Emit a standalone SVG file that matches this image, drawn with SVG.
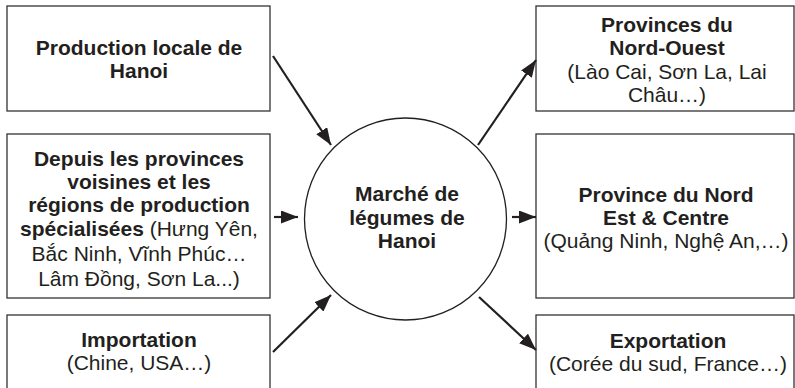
<svg xmlns="http://www.w3.org/2000/svg" width="795" height="388" viewBox="0 0 795 388">
<defs>
<style>
.box{fill:#fff;stroke:#333;stroke-width:1.3}
.t{font-family:"Liberation Sans",Arial,sans-serif;font-size:21px;fill:#231f20;text-anchor:middle}
.b{font-weight:bold}
.c{stroke:#231f20;stroke-width:2.2;fill:none;marker-end:url(#ah)}
</style>
<marker id="ah" markerUnits="userSpaceOnUse" markerWidth="18" markerHeight="13" refX="17" refY="6.5" orient="auto">
<path d="M0,0 L17,6.5 L0,13 z" fill="#231f20"/>
</marker>
</defs>
<rect width="795" height="388" fill="#fff"/>
<g id="n-local">
<rect class="box" x="7" y="6" width="263" height="105"/>
<text class="t b" x="139" y="55">Production locale de</text>
<text class="t b" x="139" y="78">Hanoi</text>
</g>
<g id="n-provinces">
<rect class="box" x="7" y="134" width="263" height="164"/>
<text class="t b" x="139" y="166">Depuis les provinces</text>
<text class="t b" x="139" y="189">voisines et les</text>
<text class="t b" x="139" y="212">régions de production</text>
<text class="t" x="139" y="236"><tspan class="b">spécialisées</tspan> (Hưng Yên,</text>
<text class="t" x="139" y="261">Bắc Ninh, Vĩnh Phúc…</text>
<text class="t" x="139" y="286">Lâm Đồng, Sơn La...)</text>
</g>
<g id="n-import">
<rect class="box" x="7" y="315" width="263" height="80"/>
<text class="t b" x="139" y="347">Importation</text>
<text class="t" x="139" y="370">(Chine, USA…)</text>
</g>
<g id="n-marche">
<circle cx="405.5" cy="219" r="101" fill="#fff" stroke="#231f20" stroke-width="1.3"/>
<text class="t b" x="407" y="201">Marché de</text>
<text class="t b" x="407" y="224.5">légumes de</text>
<text class="t b" x="407" y="248">Hanoi</text>
</g>
<g id="n-nordouest">
<rect class="box" x="536" y="6" width="258" height="105"/>
<text class="t b" x="667" y="32">Provinces du</text>
<text class="t b" x="667" y="55">Nord-Ouest</text>
<text class="t" x="667" y="79">(Lào Cai, Sơn La, Lai</text>
<text class="t" x="667" y="102">Châu…)</text>
</g>
<g id="n-nordest">
<rect class="box" x="536" y="134" width="258" height="164"/>
<text class="t b" x="666" y="202">Province du Nord</text>
<text class="t b" x="666" y="225">Est &amp; Centre</text>
<text class="t" x="666" y="248">(Quảng Ninh, Nghệ An,…)</text>
</g>
<g id="n-export">
<rect class="box" x="536" y="315" width="258" height="80"/>
<text class="t b" x="668" y="348">Exportation</text>
<text class="t" x="668" y="371">(Corée du sud, France…)</text>
</g>
<g id="connectors">
<line class="c" x1="273" y1="56" x2="331" y2="145"/>
<line class="c" x1="274" y1="217" x2="298" y2="217"/>
<line class="c" x1="273" y1="352" x2="331" y2="295"/>
<line class="c" x1="478" y1="145" x2="536" y2="60"/>
<line class="c" x1="512" y1="217" x2="536" y2="217"/>
<line class="c" x1="479" y1="297" x2="536" y2="350"/>
</g>
</svg>
